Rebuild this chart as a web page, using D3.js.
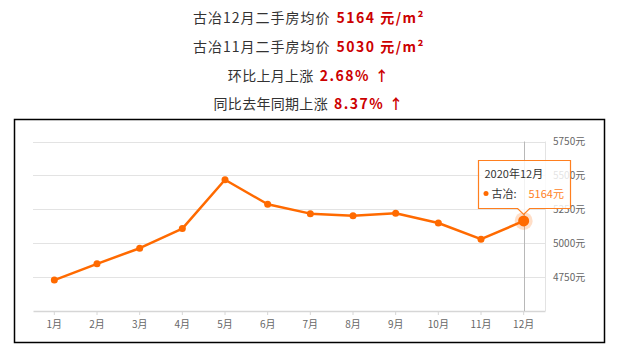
<!DOCTYPE html>
<html>
<head>
<meta charset="utf-8">
<script src="https://cdn.jsdelivr.net/npm/d3@7"></script>
<style>
  html, body { margin: 0; padding: 0; background: #fff; }
  svg { display: block; font-family: "Noto Sans CJK SC", "Noto Sans", sans-serif; }
</style>
</head>
<body>
<svg id="chart" width="618" height="354"></svg>
<script>
// Monthly second-hand housing average price, 古冶 district, 2020
const months = ["1月","2月","3月","4月","5月","6月","7月","8月","9月","10月","11月","12月"];
const prices = [4728, 4848, 4963, 5108, 5468, 5287, 5218, 5203, 5221, 5149, 5030, 5164];
const yTicks = [4750, 5000, 5250, 5500, 5750];
const seriesName = "古冶";
const tooltipTitle = "2020年12月";
const headerLabels = ["古冶12月二手房均价", "古冶11月二手房均价", "环比上月上涨", "同比去年同期上涨"];
const headerValues = ["5164 元/m²", "5030 元/m²", "2.68% ↑", "8.37% ↑"];

const svg = d3.select("#chart");

// Summary header
const headerY = [23, 52, 81, 109];
headerLabels.forEach((label, i) => {
  const t = svg.append("text")
    .attr("x", 309).attr("y", headerY[i])
    .attr("text-anchor", "middle")
    .attr("font-size", 14)
    .style("white-space", "pre");
  t.append("tspan").attr("fill", "#333").attr("letter-spacing", i < 2 ? 1 : 0.3).text(label);
  t.append("tspan").attr("fill", "#cc0000").attr("font-weight", "bold")
    .attr("dx", 6).attr("letter-spacing", 1.5).text(headerValues[i]);
});

// Frame around the chart
svg.append("rect")
  .attr("x", 14.5).attr("y", 119.5).attr("width", 590).attr("height", 223)
  .attr("fill", "none").attr("stroke", "#000").attr("stroke-width", 1.5);

const x = d3.scaleBand().domain(months).range([33, 545]);
const y = d3.scaleLinear().domain([4500, 5750]).range([311, 141.5]);
const cx = m => x(m) + x.bandwidth() / 2;

// Horizontal grid
svg.append("g").selectAll("line").data(yTicks).join("line")
  .attr("x1", 33).attr("x2", 545)
  .attr("y1", d => Math.round(y(d)) + 0.5).attr("y2", d => Math.round(y(d)) + 0.5)
  .attr("stroke", "#e3e3e3").attr("stroke-width", 1);

// Right edge of the plot area
svg.append("line")
  .attr("x1", 545.5).attr("x2", 545.5).attr("y1", y(5750)).attr("y2", 311)
  .attr("stroke", "#e3e3e3");

// X axis
const xAxis = svg.append("g").attr("transform", "translate(0,311)")
  .call(d3.axisBottom(x).tickSize(4).tickPadding(6).tickSizeOuter(0));
xAxis.select(".domain").attr("stroke", "#d6d6d6").attr("stroke-width", 1.5);
xAxis.selectAll(".tick line").attr("stroke", "#d6d6d6");
xAxis.selectAll(".tick text").attr("fill", "#666").attr("font-size", 10)
  .attr("font-family", "\"Noto Sans CJK SC\", sans-serif");

// Y axis labels on the right
const yAxis = svg.append("g").attr("transform", "translate(545,0)")
  .call(d3.axisRight(y).tickValues(yTicks).tickSize(0).tickPadding(8)
    .tickFormat(d => d + "元"));
yAxis.select(".domain").remove();
yAxis.selectAll(".tick text").attr("fill", "#666").attr("font-size", 10)
  .attr("font-family", "\"Noto Sans CJK SC\", sans-serif");

// Hover guide line on the last month
const last = months.length - 1;
svg.append("line")
  .attr("x1", Math.round(cx(months[last])) + 0.5).attr("x2", Math.round(cx(months[last])) + 0.5)
  .attr("y1", y(5750)).attr("y2", 311)
  .attr("stroke", "#b8b8b8").attr("stroke-width", 1);

// Price line
const orange = "#ff6a00";
svg.append("path")
  .datum(prices)
  .attr("fill", "none").attr("stroke", orange).attr("stroke-width", 2.5)
  .attr("stroke-linejoin", "round")
  .attr("d", d3.line().x((d, i) => cx(months[i])).y(d => y(d)));

svg.append("g").selectAll("circle").data(prices.slice(0, last)).join("circle")
  .attr("cx", (d, i) => cx(months[i])).attr("cy", d => y(d))
  .attr("r", 3.5).attr("fill", orange);

// Highlighted point
svg.append("circle")
  .attr("cx", cx(months[last])).attr("cy", y(prices[last]))
  .attr("r", 9).attr("fill", orange).attr("fill-opacity", 0.22);
svg.append("circle")
  .attr("cx", cx(months[last])).attr("cy", y(prices[last]))
  .attr("r", 5.5).attr("fill", orange);

// Tooltip
const tipX = 478.5, tipY = 160.5, tipW = 92, tipH = 48;
const px = cx(months[last]);
const tipPath = `M${tipX},${tipY} H${tipX + tipW} V${tipY + tipH} H${px + 6} L${px},${tipY + tipH + 6} L${px - 6},${tipY + tipH} H${tipX} Z`;
svg.append("path")
  .attr("d", tipPath)
  .attr("fill", "#fff").attr("fill-opacity", 0.82)
  .attr("stroke", "#ff7f1f").attr("stroke-width", 1.2);
svg.append("text")
  .attr("x", tipX + 6).attr("y", tipY + 17)
  .attr("font-size", 11).attr("fill", "#333").text(tooltipTitle);
svg.append("circle")
  .attr("cx", tipX + 7.5).attr("cy", tipY + 33).attr("r", 2.5).attr("fill", orange);
svg.append("text")
  .attr("x", tipX + 13).attr("y", tipY + 37)
  .attr("font-size", 11).attr("fill", "#333").text(seriesName + ":");
svg.append("text")
  .attr("x", tipX + 50).attr("y", tipY + 37)
  .attr("font-size", 11).attr("fill", "#ff7f1f").text(prices[last] + "元");
</script>
</body>
</html>
